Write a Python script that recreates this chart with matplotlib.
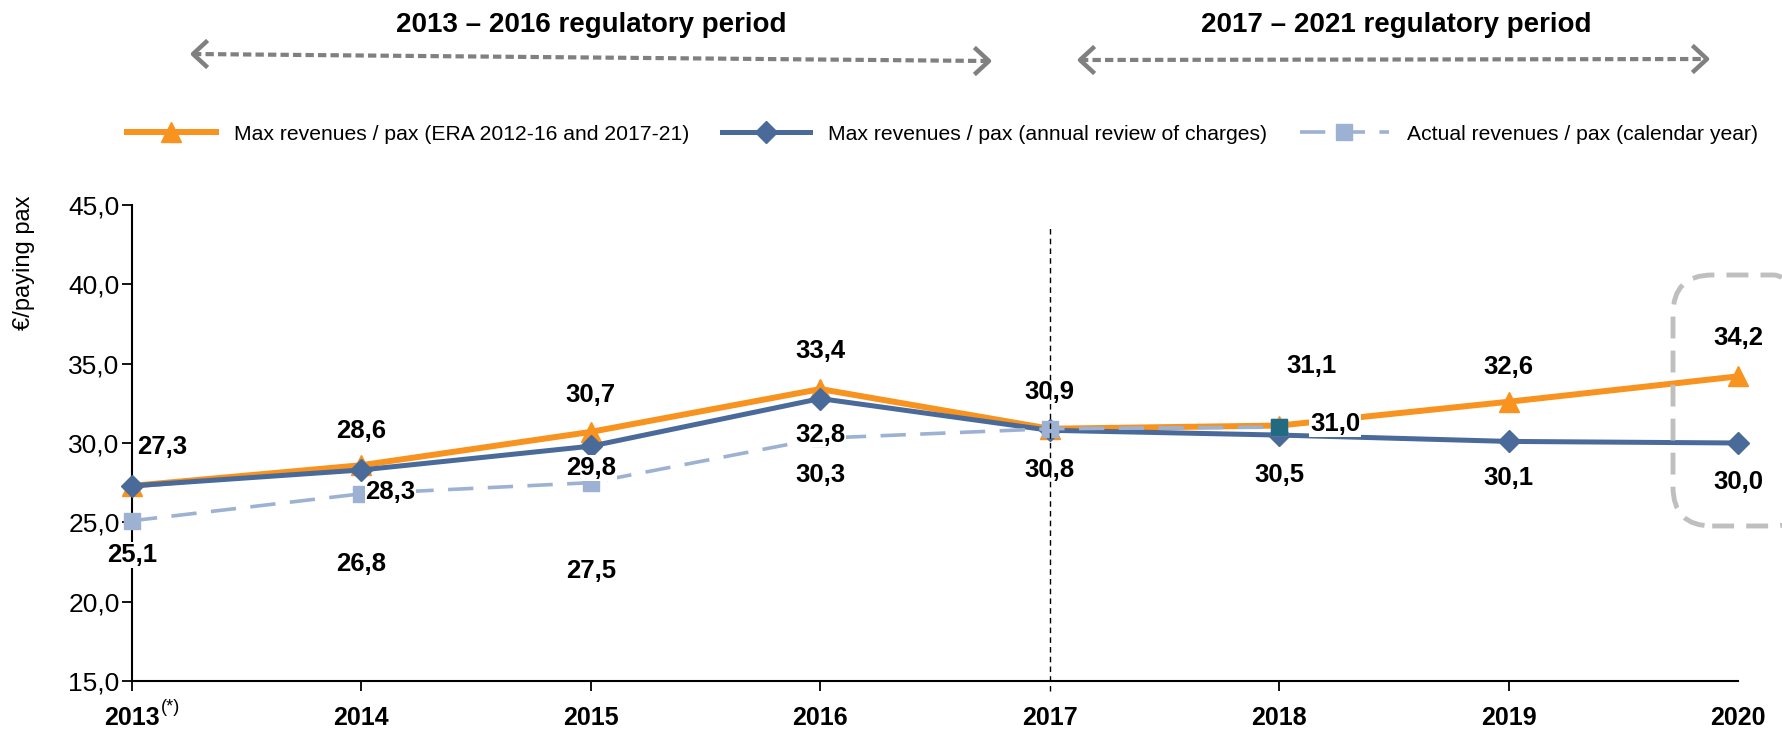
import matplotlib
matplotlib.use("Agg")
import matplotlib.pyplot as plt
from matplotlib.lines import Line2D
from matplotlib.patches import FancyBboxPatch

plt.rcParams['font.family'] = ['Liberation Sans', 'DejaVu Sans']

years = [2013, 2014, 2015, 2016, 2017, 2018, 2019, 2020]
year_labels = ['2013', '2014', '2015', '2016', '2017', '2018', '2019', '2020']
max_era = [27.3, 28.6, 30.7, 33.4, 30.9, 31.1, 32.6, 34.2]
max_annual = [27.3, 28.3, 29.8, 32.8, 30.8, 30.5, 30.1, 30.0]
actual_years = [2013, 2014, 2015, 2016, 2017, 2018]
actual = [25.1, 26.8, 27.5, 30.3, 30.9, 31.0]

series_names = ['Max revenues / pax (ERA 2012-16 and 2017-21)',
                'Max revenues / pax (annual review of charges)',
                'Actual revenues / pax (calendar year)']
periods = ['2013 \u2013 2016 regulatory period', '2017 \u2013 2021 regulatory period']

# label offsets in pixels (dx, dy), None = no label
era_off = [(30, 39), (0, 34), (0, 37), (0, 38), (0, 38), (32, 60), (0, 35), (0, 38)]
annual_off = [None, (29, -22), (0, -22), (0, -36), (0, -40), (0, -40), (0, -37), (0, -39)]
actual_off = [(0, -34), (0, -70), (0, -88), (0, -37), (0, 37), (56, 3)]

ORANGE = '#F7931E'
BLUE = '#4A6A9A'
LIGHT = '#9DB1D2'
TEAL = '#226A82'

W, H = 1782, 729
fig = plt.figure(figsize=(W / 100, H / 100), dpi=100)
ax = fig.add_axes([132 / W, 1 - 681 / H, (1738 - 132) / W, (681 - 205) / H])

ax.plot(years, max_era, color=ORANGE, lw=4.3, marker='^', ms=14, zorder=2,
        label=series_names[0], clip_on=False)
ax.plot(years, max_annual, color=BLUE, lw=3.6, marker='D', ms=11, zorder=3,
        label=series_names[1], clip_on=False)
ax.plot(actual_years, actual, color=LIGHT, lw=2.6, ls=(0, (7, 4)), marker='s', ms=12,
        zorder=4, label=series_names[2], clip_on=False)
ax.plot(actual_years[-1:], actual[-1:], ls='none', marker='s', ms=12, color=TEAL, zorder=4)


def fmt(v):
    return f'{v:.1f}'.replace('.', ',')


def put_labels(xs, ys, offs):
    for x, y, off in zip(xs, ys, offs):
        if off is None:
            continue
        ax.annotate(fmt(y), (x, y), xytext=off, textcoords='offset pixels',
                    ha='center', va='center', fontsize=18.5, fontweight='bold', zorder=6,
                    bbox=dict(facecolor='white', edgecolor='none', pad=0.5))


put_labels(years, max_era, era_off)
put_labels(years, max_annual, annual_off)
put_labels(actual_years, actual, actual_off)

ax.axvline(2017, ymin=-0.02, ymax=0.957, color='black', lw=1, ls=(0, (4, 3)),
           zorder=10, clip_on=False)

ax.set_xlim(2013, 2020)
ax.set_ylim(15, 45)
ax.set_yticks([15, 20, 25, 30, 35, 40, 45])
ax.set_yticklabels([fmt(v) for v in [15, 20, 25, 30, 35, 40, 45]], fontsize=19)
ax.set_xticks(years)
ax.set_xticklabels(year_labels, fontsize=18, fontweight='bold')
ax.tick_params(axis='both', direction='out', length=7, width=1.3, color='black')
ax.tick_params(axis='x', pad=11)
ax.tick_params(axis='y', pad=2)
ticks = ax.xaxis.get_major_ticks()
ticks[4].tick1line.set_visible(False)
ticks[7].tick1line.set_visible(False)
for s in ['top', 'right']:
    ax.spines[s].set_visible(False)
for s in ['left', 'bottom']:
    ax.spines[s].set_linewidth(1.5)

ax.annotate('(*)', (2013, 15), xytext=(39, -26), textcoords='offset pixels',
            ha='center', va='center', fontsize=13)

fig.text(24 / W, 1 - 263 / H, '\u20ac/paying pax', rotation=90, ha='center', va='center',
         fontsize=17)

# legend
fig.legend(loc='center left', bbox_to_anchor=(127 / W, 1 - 134 / H), ncol=3, frameon=False,
           fontsize=15.2, handlelength=4.2, handletextpad=0.85, columnspacing=1.55,
           borderpad=0, borderaxespad=0)

# regulatory period headers and arrows
fig.text(591 / W, 1 - 25 / H, periods[0], ha='center', va='center', fontsize=20,
         fontweight='bold')
fig.text(1396 / W, 1 - 25 / H, periods[1], ha='center', va='center', fontsize=20,
         fontweight='bold')
for (x0, y0, x1, y1) in [(193, 54, 989, 61), (1080, 60, 1707, 59)]:
    fig.add_artist(Line2D([x0 / W, x1 / W], [1 - y0 / H, 1 - y1 / H], color='#808080',
                          lw=3, ls=(0, (2, 1)), transform=fig.transFigure))
    for (xt, yt, d) in [(x0, y0, 1), (x1, y1, -1)]:
        fig.add_artist(Line2D([(xt + d * 13) / W, xt / W, (xt + d * 13) / W],
                              [1 - (yt - 12) / H, 1 - yt / H, 1 - (yt + 12) / H],
                              color='#808080', lw=3.2, transform=fig.transFigure))

box = FancyBboxPatch((1673 / W, 1 - 526 / H), 140 / W, (526 - 275) / H,
                     boxstyle='round,pad=0,rounding_size=0.022', transform=fig.transFigure,
                     fill=False, edgecolor='#BFBFBF', lw=3.5, ls=(0, (4.5, 2.5)),
                     mutation_aspect=W / H)
fig.add_artist(box)

fig.savefig('out.png', dpi=100)
